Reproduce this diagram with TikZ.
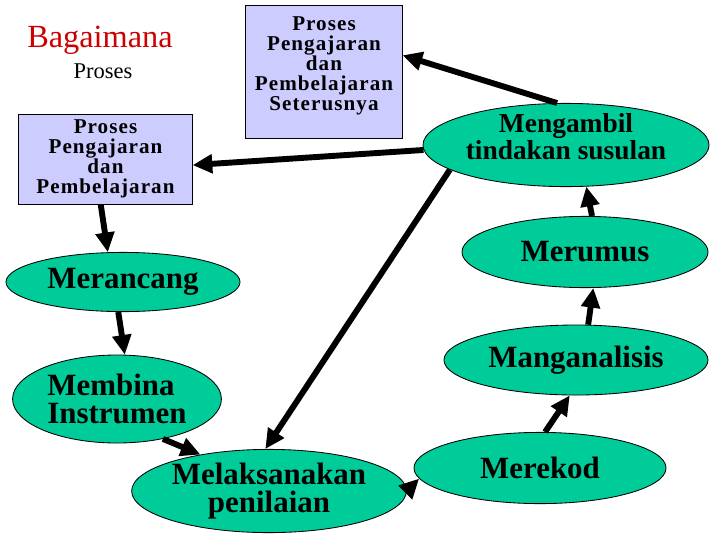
\documentclass[tikz,border=0pt]{standalone}
\usepackage{fontspec}
\setmainfont{Liberation Serif}
\newfontfamily\boxfont[LetterSpace=5]{Liberation Serif}
\usetikzlibrary{arrows.meta,shapes.geometric}
\definecolor{titlered}{RGB}{204,0,0}
\definecolor{nodegreen}{RGB}{0,204,153}
\definecolor{nodelav}{RGB}{204,204,255}
\tikzset{
  box/.style={draw=black, fill=nodelav, align=center, inner sep=0pt,
    line width=0.7pt, font={\boxfont\bfseries\fontsize{15}{14.2}\selectfont}},
  st/.style={ellipse, draw=black, fill=nodegreen, align=center, inner sep=0pt,
    line width=0.6pt, font={\bfseries\fontsize{22}{20}\selectfont}},
  flow/.style={-{Triangle[length=14pt,width=13pt]}, line width=4.2pt},
}

\begin{document}
\begin{tikzpicture}[x=0.025cm, y=-0.025cm]
  \useasboundingbox (0,0) rectangle (720,540);
  \node[text=titlered, font={\fontsize{23}{26}\selectfont}] (judul) at (100,40) {Bagaimana};
  \node[font={\fontsize{16}{18}\selectfont}] (sub) at (103,71) {Proses};
  \node[box, minimum width=4.33cm, minimum height=2.25cm] (box1) at (105.5,159)
    {Proses\\Pengajaran\\dan\\Pembelajaran};
  \node[box, minimum width=3.9cm, minimum height=3.3cm, text depth=12pt] (box2) at (324,72)
    {Proses\\Pengajaran\\dan\\Pembelajaran\\Seterusnya};
  \node[st, minimum width=7.15cm, minimum height=2.08cm, text depth=12pt, inner sep=-6pt,
    font={\bfseries\fontsize{19.5}{16.5}\selectfont}] (meng) at (566,145)
    {Mengambil\\tindakan susulan};
  \node[st, minimum width=6.15cm, minimum height=1.78cm] (merumus) at (585,252) {Merumus};
  \node[st, minimum width=6.6cm, minimum height=1.75cm] (mang) at (576,360) {Manganalisis};
  \node[st, minimum width=6.3cm, minimum height=1.78cm] (merekod) at (540,468) {Merekod};
  \node[st, minimum width=5.85cm, minimum height=1.48cm] (merancang) at (123,282) {Merancang};
  \node[st, minimum width=5.22cm, minimum height=2.2cm, align=left] (membina) at (117,399)
    {Membina\\Instrumen};
  \node[st, minimum width=6.55cm, minimum height=2.08cm] (melak) at (269,491)
    {Melaksanakan\\penilaian};
  \draw[flow] (meng.102) -- (box2.12);
  \draw[flow] (meng.182) -- (box1.-4);
  \draw[flow] (box1.-96) -- (merancang.117);
  \draw[flow] (merancang.-99) -- (membina.80);
  \draw[flow] (membina.-41) -- (melak.152);
  \draw[flow] (meng.192) -- (melak.95);
  \draw[flow] (melak.0) -- (merekod.185);
  \draw[flow] (merekod.82) -- (mang.-100);
  \draw[flow] (mang.71) -- (merumus.-77);
  \draw[flow] (merumus.79) -- (meng.-64);
\end{tikzpicture}
\end{document}
